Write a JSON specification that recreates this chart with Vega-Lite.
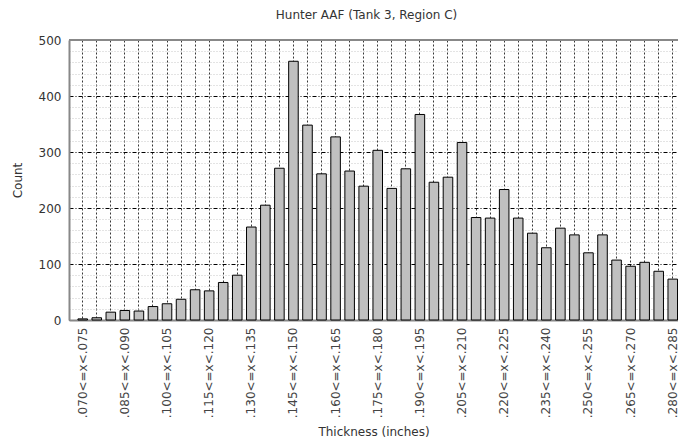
{
  "$schema": "https://vega.github.io/schema/vega-lite/v6.json",
  "width": 609,
  "height": 280,
  "autosize": {"type": "none"},
  "padding": {"left": 69, "top": 40, "right": 0, "bottom": 125},
  "background": "white",
  "title": {"text": "Hunter AAF (Tank 3, Region C)", "font": "DejaVu Sans", "fontSize": 12, "fontWeight": "normal", "color": "#333", "offset": 12, "dx": -7},
  "config": {"view": {"stroke": null}},
  "data": {"values": [
    {"bin": ".070<=x<.075", "count": 2},
    {"bin": ".075<=x<.080", "count": 4},
    {"bin": ".080<=x<.085", "count": 14},
    {"bin": ".085<=x<.090", "count": 17},
    {"bin": ".090<=x<.095", "count": 16},
    {"bin": ".095<=x<.100", "count": 24},
    {"bin": ".100<=x<.105", "count": 29},
    {"bin": ".105<=x<.110", "count": 37},
    {"bin": ".110<=x<.115", "count": 54},
    {"bin": ".115<=x<.120", "count": 52},
    {"bin": ".120<=x<.125", "count": 67},
    {"bin": ".125<=x<.130", "count": 80},
    {"bin": ".130<=x<.135", "count": 166},
    {"bin": ".135<=x<.140", "count": 205},
    {"bin": ".140<=x<.145", "count": 271},
    {"bin": ".145<=x<.150", "count": 462},
    {"bin": ".150<=x<.155", "count": 348},
    {"bin": ".155<=x<.160", "count": 261},
    {"bin": ".160<=x<.165", "count": 327},
    {"bin": ".165<=x<.170", "count": 266},
    {"bin": ".170<=x<.175", "count": 239},
    {"bin": ".175<=x<.180", "count": 303},
    {"bin": ".180<=x<.185", "count": 235},
    {"bin": ".185<=x<.190", "count": 270},
    {"bin": ".190<=x<.195", "count": 367},
    {"bin": ".195<=x<.200", "count": 246},
    {"bin": ".200<=x<.205", "count": 255},
    {"bin": ".205<=x<.210", "count": 317},
    {"bin": ".210<=x<.215", "count": 183},
    {"bin": ".215<=x<.220", "count": 182},
    {"bin": ".220<=x<.225", "count": 233},
    {"bin": ".225<=x<.230", "count": 182},
    {"bin": ".230<=x<.235", "count": 155},
    {"bin": ".235<=x<.240", "count": 129},
    {"bin": ".240<=x<.245", "count": 164},
    {"bin": ".245<=x<.250", "count": 152},
    {"bin": ".250<=x<.255", "count": 120},
    {"bin": ".255<=x<.260", "count": 152},
    {"bin": ".260<=x<.265", "count": 107},
    {"bin": ".265<=x<.270", "count": 96},
    {"bin": ".270<=x<.275", "count": 103},
    {"bin": ".275<=x<.280", "count": 87},
    {"bin": ".280<=x<.285", "count": 73}
  ]},
  "resolve": {"axis": {"y": "independent"}},
  "layer": [
    {
      "mark": {"type": "bar", "fill": "#c0c0c0", "stroke": "#000", "strokeWidth": 1},
      "encoding": {
        "x": {
          "field": "bin", "type": "nominal", "sort": null,
          "scale": {"paddingInner": 0.32, "paddingOuter": 0.335, "align": 0.95},
          "axis": {
            "title": "Thickness (inches)",
            "titleFont": "DejaVu Sans", "titleFontSize": 12, "titleFontWeight": "normal", "titleColor": "#333", "titlePadding": 9,
            "labelFont": "DejaVu Sans", "labelFontSize": 12, "labelColor": "#444",
            "labelAngle": -90, "labelAlign": "right", "labelBaseline": "middle", "labelPadding": 7,
            "labelExpr": "(round(toNumber(substring(datum.value, 1, 4))) - 70) % 15 == 0 ? datum.value : ''",
            "labelOverlap": false,
            "ticks": false,
            "domainColor": "#888", "domainWidth": 2,
            "grid": true, "gridColor": "#222", "gridDash": [2, 2], "gridWidth": 1, "gridOpacity": 0.9
          }
        },
        "y": {
          "field": "count", "type": "quantitative",
          "scale": {"domain": [0, 500], "nice": false},
          "axis": {
            "title": "Count",
            "titleFont": "DejaVu Sans", "titleFontSize": 12, "titleFontWeight": "normal", "titleColor": "#333", "titlePadding": 14,
            "labelFont": "DejaVu Sans", "labelFontSize": 12, "labelColor": "#333", "labelPadding": 8,
            "labelOverlap": false,
            "values": [0, 20, 40, 60, 80, 100, 120, 140, 160, 180, 200, 220, 240, 260, 280, 300, 320, 340, 360, 380, 400, 420, 440, 460, 480, 500],
            "labelExpr": "indexof([0, 100, 200, 300, 400, 500], datum.value) >= 0 ? datum.label : ''",
            "ticks": false,
            "domainColor": "#888", "domainWidth": 2,
            "grid": true,
            "gridColor": {"condition": {"test": "indexof([0, 100, 200, 300, 400, 500], datum.value) >= 0", "value": "#000"}, "value": "#c8c8c8"},
            "gridDash": {"condition": {"test": "indexof([0, 100, 200, 300, 400, 500], datum.value) >= 0", "value": [4, 2, 1, 2]}, "value": [1, 2]},
            "gridWidth": 1
          }
        }
      }
    },
    {
      "mark": {"type": "rule", "color": "#888", "strokeWidth": 2},
      "encoding": {"y": {"datum": 500, "type": "quantitative", "axis": null}}
    }
  ]
}
